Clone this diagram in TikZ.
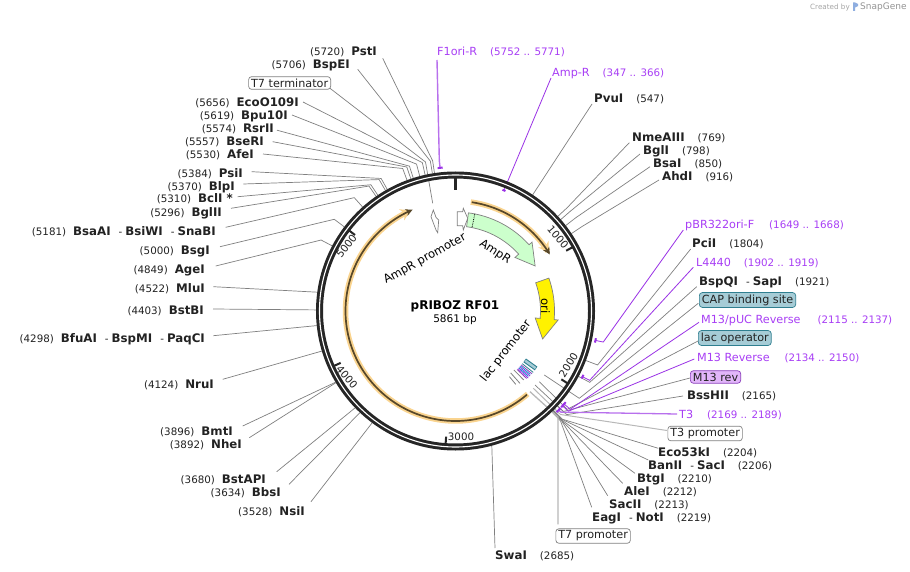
\documentclass[tikz,border=0pt]{standalone}
\usepackage{fontspec}
\setmainfont{DejaVu Sans}
\usetikzlibrary{calc,arrows.meta}
\definecolor{leadgray}{HTML}{808080}
\definecolor{softgray}{HTML}{B8B8B8}
\definecolor{primline}{HTML}{9A32E6}
\definecolor{primtext}{HTML}{A83EF5}
\definecolor{ringblack}{HTML}{262626}
\definecolor{haloorange}{HTML}{FAD48F}
\definecolor{darkorf}{HTML}{574729}
\definecolor{tealfill}{HTML}{A6CCD6}
\definecolor{tealline}{HTML}{2F7F90}
\definecolor{violetfill}{HTML}{E2B6FA}
\definecolor{violetline}{HTML}{8A3DBB}
\definecolor{ampgreen}{HTML}{CCFFCC}
\definecolor{numtext}{HTML}{222222}
\tikzset{
  leader/.style={draw=leadgray,line width=0.7pt},
  softleader/.style={draw=softgray,line width=1.3pt},
  primerline/.style={draw=primline,line width=0.8pt},
  primermark/.style={draw=primline,line width=2pt},
  sitelabel/.style={inner sep=0pt,font=\fontsize{10.3}{13}\selectfont,text=numtext},
  primerlabel/.style={inner sep=0pt,font=\fontsize{11.2}{13}\selectfont,text=primtext},
  whitebox/.style={rounded corners=3pt,draw=gray,fill=white,line width=0.7pt,inner xsep=2.5pt,inner ysep=2pt,font=\fontsize{11.2}{13}\selectfont,text=numtext},
  tealbox/.style={whitebox,draw=tealline,fill=tealfill},
  violetbox/.style={whitebox,draw=violetline,fill=violetfill},
  ticklabel/.style={inner sep=0pt,font=\fontsize{10.3}{13}\selectfont,text=numtext},
  featlabel/.style={inner sep=0pt,font=\fontsize{11.6}{13}\selectfont,text=black},
  tickmark/.style={draw=ringblack,line width=2pt},
  radialbar/.style={line width=0.8pt},
}
\newcommand{\PT}[2]{({455.5+#1*sin(#2/5861*360)},{311-#1*cos(#2/5861*360)})}
\newcommand{\AG}[2]{({455.5+#1*sin(#2)},{311-#1*cos(#2)})}
\newcommand{\lead}[4]{\draw[leader] ($(#1)+(#2,{#3-2})$) -- \PT{152}{#4} -- \PT{139.5}{#4};}
\newcommand{\leadS}[4]{\draw[leader] ($(#1)+(#2,{#3-2})$) -- \PT{139.5}{#4};}
\newcommand{\primr}[5]{%
  \pgfmathsetmacro{\midbp}{(#4+#5)/2}%
  \draw[primerline] ($(#1)+(#2,{#3-2})$) -- \PT{151}{\midbp} -- \PT{143}{\midbp};
  \draw[primermark] plot[domain=#4-5:#5+5,samples=5] ({455.5+143*sin(\x/5861*360)},{311-143*cos(\x/5861*360)});}
\newcommand{\lbl}[4]{\node[sitelabel,anchor=mid east] (#1) at (#2,{#3+2}) {#4};}
\newcommand{\rbl}[4]{\node[sitelabel,anchor=mid west] (#1) at (#2,{#3+2}) {#4};}
\newcommand{\pbl}[4]{\node[primerlabel,anchor=mid west] (#1) at (#2,{#3+2}) {#4};}
\newcommand{\bb}[1]{{\fontsize{11.8}{13}\selectfont\bfseries #1}}
\newcommand{\rng}[1]{{\fontsize{10.3}{13}\selectfont #1}}
\newcommand{\ls}{\hspace{7pt}}
\newcommand{\rs}{\hspace{13pt}}
\newcommand{\ds}{\hspace{8pt}-\hspace{3pt}}
\newcommand{\radial}[3]{\draw[radialbar,draw=#3] \AG{85}{#1} -- \AG{#2}{#1};}
\begin{document}
\begin{tikzpicture}[x=1pt,y=-1pt]
\useasboundingbox (0,0) rectangle (910,572);
\fill[white] (0,0) rectangle (910,572);

% --- labels, left side
\lbl{pst}{377}{51}{(5720)\ls\bb{PstI}}
\lbl{bspe}{350}{64}{(5706)\ls\bb{BspEI}}
\node[whitebox,anchor=east] (t7term) at (331,83) {T7 terminator};
\lbl{eco}{299}{102}{(5656)\ls\bb{EcoO109I}}
\lbl{bpu}{288}{115}{(5619)\ls\bb{Bpu10I}}
\lbl{rsr}{274}{128}{(5574)\ls\bb{RsrII}}
\lbl{bse}{264}{141}{(5557)\ls\bb{BseRI}}
\lbl{afe}{254}{154}{(5530)\ls\bb{AfeI}}
\lbl{psi}{243}{173}{(5384)\ls\bb{PsiI}}
\lbl{blp}{235}{186}{(5370)\ls\bb{BlpI}}
\lbl{bcl}{233}{198}{(5310)\ls\bb{BclI *}}
\lbl{bgl}{222}{212}{(5296)\ls\bb{BglII}}
\lbl{bsaa}{216}{231}{(5181)\ls\bb{BsaAI}\ds\bb{BsiWI}\ds\bb{SnaBI}}
\lbl{bsg}{210}{250}{(5000)\ls\bb{BsgI}}
\lbl{age}{205}{269}{(4849)\ls\bb{AgeI}}
\lbl{mlu}{205}{288}{(4522)\ls\bb{MluI}}
\lbl{bstb}{204}{310}{(4403)\ls\bb{BstBI}}
\lbl{bfua}{205}{338}{(4298)\ls\bb{BfuAI}\ds\bb{BspMI}\ds\bb{PaqCI}}
\lbl{nru}{214}{384}{(4124)\ls\bb{NruI}}
\lbl{bmt}{233}{431}{(3896)\ls\bb{BmtI}}
\lbl{nhe}{242}{444}{(3892)\ls\bb{NheI}}
\lbl{bstap}{266}{479}{(3680)\ls\bb{BstAPI}}
\lbl{bbs}{281}{492}{(3634)\ls\bb{BbsI}}
\lbl{nsi}{305}{511}{(3528)\ls\bb{NsiI}}

% --- labels, right side
\pbl{fori}{437}{51}{F1ori-R\hspace{13pt}\rng{(5752 .. 5771)}}
\pbl{ampr}{552}{72}{Amp-R\hspace{13pt}\rng{(347 .. 366)}}
\rbl{pvu}{594}{98}{\bb{PvuI}\rs(547)}
\rbl{nme}{632}{137}{\bb{NmeAIII}\rs(769)}
\rbl{bgli}{643}{150}{\bb{BglI}\rs(798)}
\rbl{bsai}{653}{163}{\bb{BsaI}\rs(850)}
\rbl{ahd}{662}{176}{\bb{AhdI}\rs(916)}
\pbl{pbr}{685}{224}{pBR322ori-F\hspace{15pt}\rng{(1649 .. 1668)}}
\rbl{pci}{692}{243}{\bb{PciI}\rs(1804)}
\pbl{l44}{696}{262}{L4440\hspace{13pt}\rng{(1902 .. 1919)}}
\rbl{bspq}{699}{281}{\bb{BspQI}\ds\bb{SapI}\rs(1921)}
\node[tealbox,anchor=west] (cap) at (699,300) {CAP binding site};
\pbl{puc}{701}{319}{M13/pUC Reverse\hspace{17pt}\rng{(2115 .. 2137)}}
\node[tealbox,anchor=west] (lacop) at (698,338) {lac operator};
\pbl{m13r}{697}{357}{M13 Reverse\hspace{15pt}\rng{(2134 .. 2150)}}
\node[violetbox,anchor=west] (m13box) at (690,377) {M13 rev};
\rbl{bsshii}{687}{395}{\bb{BssHII}\rs(2165)}
\pbl{tthree}{679}{414}{T3\hspace{14pt}\rng{(2169 .. 2189)}}
\node[whitebox,anchor=west] (t3prom) at (667.5,433.5) {T3 promoter};
\rbl{eco53}{658}{452}{\bb{Eco53kI}\rs(2204)}
\rbl{ban}{648}{465}{\bb{BanII}\ds\bb{SacI}\rs(2206)}
\rbl{btg}{637}{478}{\bb{BtgI}\rs(2210)}
\rbl{ale}{624}{491}{\bb{AleI}\rs(2212)}
\rbl{sac}{609}{504}{\bb{SacII}\rs(2213)}
\rbl{eag}{592}{517}{\bb{EagI}\ds\bb{NotI}\rs(2219)}
\node[whitebox,anchor=west] (t7prom) at (555.5,536) {T7 promoter};
\rbl{swa}{495}{555}{\bb{SwaI}\rs(2685)}

% --- inner ends of feature leaders
\coordinate (t7termEnd) at (432.7,203.3);
\coordinate (t7termBend) at (425.5,162);
\coordinate (capEnd) at (544.3,375);
\coordinate (capBend) at (579.3,398.3);
\coordinate (lacopEnd) at (539.3,381.7);
\coordinate (lacopBend) at (567.3,409.3);
\coordinate (m13End) at (535,385);
\coordinate (m13Bend) at (563.5,411.5);
\coordinate (t3End) at (533.3,388.3);
\coordinate (t3Bend) at (560.5,414.5);
\coordinate (t7End) at (530,391.7);
\coordinate (t7Bend) at (558,417);

% --- restriction site leaders
\lead{pst.mid east}{5.7}{7.3}{5720}
\lead{bspe.mid east}{7.7}{5.3}{5706}
\lead{eco.mid east}{4}{0}{5656}
\lead{bpu.mid east}{4}{0}{5619}
\lead{rsr.mid east}{3}{2.2}{5574}
\lead{bse.mid east}{8.7}{0.7}{5557}
\lead{afe.mid east}{9}{0}{5530}
\lead{psi.mid east}{8.7}{-1.3}{5384}
\lead{blp.mid east}{8.3}{-2}{5370}
\lead{bcl.mid east}{4.7}{-1.3}{5310}
\lead{bgl.mid east}{9}{-3.7}{5296}
\lead{bsaa.mid east}{9.7}{-3.7}{5181}
\lead{bsg.mid east}{10}{-3.3}{5000}
\lead{age.mid east}{10.7}{-3}{4849}
\leadS{mlu.mid east}{8.3}{-1.3}{4522}
\leadS{bstb.mid east}{9}{-1}{4403}
\leadS{bfua.mid east}{8.3}{-2.3}{4298}
\leadS{nru.mid east}{8.7}{-4.7}{4124}
\leadS{bmt.mid east}{9.7}{-5}{3896}
\leadS{nhe.mid east}{7.3}{-6.3}{3892}
\leadS{bstap.mid east}{10.7}{-7.3}{3680}
\leadS{bbs.mid east}{8}{-7.7}{3634}
\leadS{nsi.mid east}{6}{-9.3}{3528}
\leadS{pvu.mid west}{-2}{6}{547}
\lead{nme.mid west}{-2.7}{5.7}{769}
\lead{bgli.mid west}{-3}{4}{798}
\lead{bsai.mid west}{-3}{3.7}{850}
\lead{ahd.mid west}{-3}{4}{916}
\lead{pci.mid west}{-1.3}{6}{1804}
\lead{bspq.mid west}{-2.3}{5.7}{1921}
\lead{bsshii.mid west}{-4}{1}{2165}
\lead{eco53.mid west}{0.3}{-3.7}{2204}
\lead{ban.mid west}{0.3}{-5}{2206}
\lead{btg.mid west}{-2}{-4.7}{2210}
\lead{ale.mid west}{-1.3}{-7.7}{2212}
\lead{sac.mid west}{-1.3}{-8.3}{2213}
\lead{eag.mid west}{-0.3}{-9.7}{2219}
\leadS{swa.mid west}{0}{-7}{2685}

% --- feature leaders
\draw[leader] ($(t7term.east)+(-1,5.3)$) -- (t7termBend) -- (t7termEnd);
\draw[leader] ($(cap.west)+(-0.7,3.3)$) -- (capBend) -- (capEnd);
\draw[leader] ($(lacop.west)+(0,3)$) -- (lacopBend) -- (lacopEnd);
\draw[leader] ($(m13box.west)+(0,1)$) -- (m13Bend) -- (m13End);
\draw[softleader,line width=1pt] (t3prom.west) ++(-0.5,-3) -- (t3Bend) -- (t3End);
\draw[softleader] ($(t7prom.north west)+(2.5,-4)$) -- (t7Bend) -- (t7End);

% --- primers
\draw[primerline,draw=primline!70,line width=1.4pt] ($(fori.mid west)+(0,7)$) -- \PT{151}{5761} -- \PT{144}{5761};
\draw[primermark] plot[domain=5745:5778,samples=5] ({455.5+144*sin(\x/5861*360)},{311-144*cos(\x/5861*360)});
\draw[primerline] ($(ampr.mid west)+(-1,4)$) -- \PT{130}{356};
\draw[primermark] plot[domain=345:368,samples=5] ({455.5+130*sin(\x/5861*360)},{311-130*cos(\x/5861*360)});
\primr{pbr.mid west}{-1.7}{6}{1649}{1668}
\primr{l44.mid west}{-2.7}{5.3}{1902}{1919}
\primr{puc.mid west}{-2}{3.3}{2115}{2137}
\primr{m13r.mid west}{-2.7}{2}{2134}{2150}
\draw[primerline,draw=primline!70,line width=1.3pt] ($(tthree.mid west)+(-2,-2)$) -- \PT{146}{2179} -- \PT{143}{2179};
\draw[primermark] plot[domain=2160:2198,samples=5] ({455.5+143*sin(\x/5861*360)},{311-143*cos(\x/5861*360)});

% --- ring
\draw[ringblack,line width=7pt] (455.5,311) circle[radius=136];
\draw[white,line width=1.1pt] (455.5,311) circle[radius=136];

% --- ticks
\draw[tickmark,line width=3pt] \PT{133}{0} -- \PT{121}{0};
\draw[tickmark] \PT{134}{1000} -- \PT{126}{1000};
\draw[tickmark] \PT{134}{2000} -- \PT{126}{2000};
\draw[tickmark] \PT{134}{3000} -- \PT{126}{3000};
\draw[tickmark] \PT{134}{4000} -- \PT{126}{4000};
\draw[tickmark] \PT{134}{5000} -- \PT{126}{5000};
\node[ticklabel,rotate=-50] (t1k) at (558,237) {1000};
\node[ticklabel,rotate=58] (t2k) at (568.5,365) {2000};
\node[ticklabel] (t3k) at (461,437) {3000};
\node[ticklabel,rotate=-50] (t4k) at (347,377) {4000};
\node[ticklabel,rotate=52] (t5k) at (346.5,246) {5000};

% --- long orange ORFs
\draw[haloorange,line width=5.5pt,-{Stealth[length=10pt,width=12pt]}] plot[domain=8:58,samples=40,smooth] ({455.5+110*sin(\x)},{311-110*cos(\x)});
\draw[darkorf,line width=1.7pt,-{Stealth[length=7pt,width=7pt]}] plot[domain=8.5:59,samples=40,smooth] ({455.5+110*sin(\x)},{311-110*cos(\x)});
\draw[haloorange,line width=5.5pt,-{Stealth[length=10pt,width=12pt]}] plot[domain=139:336,samples=80,smooth] ({455.5+110*sin(\x)},{311-110*cos(\x)});
\draw[darkorf,line width=1.7pt,-{Stealth[length=7pt,width=7pt]}] plot[domain=139.5:337,samples=80,smooth] ({455.5+110*sin(\x)},{311-110*cos(\x)});

% --- promoter arrows
\draw[gray,fill=white,line width=0.7pt] (457.3,211.7) -- (462.7,211.7) -- (463.3,208.3) -- (467.7,218.3) -- (463.3,230) -- (462.7,225.7) -- (457.3,225.7) -- cycle;
\draw[gray,fill=white,line width=0.7pt] (433.3,210) -- (436,217.3) -- (438.7,220) -- (437.7,232.7) -- (436,230) -- (431,216.7) -- cycle;

% --- AmpR
\draw[gray,fill=ampgreen,line width=0.7pt]
  plot[domain=7.5:48,samples=25] ({455.5+99*sin(\x)},{311-99*cos(\x)})
  -- \AG{103}{48} -- \AG{91.5}{60.5} -- \AG{80}{48}
  -- plot[domain=48:7.5,samples=25] ({455.5+85*sin(\x)},{311-85*cos(\x)}) -- cycle;
\draw[black,line width=0.8pt,densely dotted] \AG{99}{11.2} -- \AG{85}{11.2};

% --- ori
\draw[gray,fill=yellow,line width=0.7pt]
  plot[domain=70.6:95,samples=15] ({455.5+99*sin(\x)},{311-99*cos(\x)})
  -- \AG{103}{95} -- \AG{91.5}{107.8} -- \AG{80}{95}
  -- plot[domain=95:70.6,samples=15] ({455.5+85*sin(\x)},{311-85*cos(\x)}) -- cycle;

% --- lac region features
\draw[tealline,line width=4.5pt] \AG{85}{125.5} -- \AG{99}{125.5};
\draw[tealfill,line width=2.4pt] \AG{85.6}{125.5} -- \AG{98.4}{125.5};
\radial{128.3}{99}{tealline}
\radial{129.4}{99}{violetline}
\radial{130.3}{98}{cyan!70!blue}
\radial{131.1}{99}{primline}
\radial{131.9}{98}{cyan!70!blue}
\radial{132.7}{99}{primline}
\radial{133.5}{98}{violetline}
\draw[gray,line width=0.8pt] \AG{83}{135.3} -- \AG{97}{135.3};
\draw[gray,line width=0.8pt] \AG{83}{138.3} -- \AG{97}{138.3};
\draw[gray,line width=0.8pt] \AG{85}{140.6} -- \AG{95}{140.6};

% --- feature names
\node[featlabel,rotate=-33] (ampname) at (495,252) {AmpR};
\node[featlabel,rotate=-90] (oriname) at (545.5,306) {ori};
\node[featlabel,rotate=29] (apromname) at (425,259) {AmpR promoter};
\node[featlabel,rotate=52] (lacname) at (506,351) {lac promoter};

% --- centre
\node[inner sep=0pt,font=\fontsize{12}{14}\selectfont\bfseries] (title) at (455,306) {pRIBOZ RF01};
\node[inner sep=0pt,font=\fontsize{10.5}{13}\selectfont] (size) at (455,320) {5861 bp};

% --- credit
\node[inner sep=0pt,anchor=mid east,text=black!35,font=\fontsize{7.2}{9}\selectfont] (credit) at (850,7) {Created by};
\node[inner sep=0pt,anchor=mid west,text=black!42,font=\fontsize{9}{10}\selectfont] (snap) at (860,7) {SnapGene};
\fill[cyan!50!blue!45] (853,2.5) rectangle (855,11) (855,2.5) -- (858,4) -- (858,6) -- (855,7.5) -- cycle;
\end{tikzpicture}
\end{document}
